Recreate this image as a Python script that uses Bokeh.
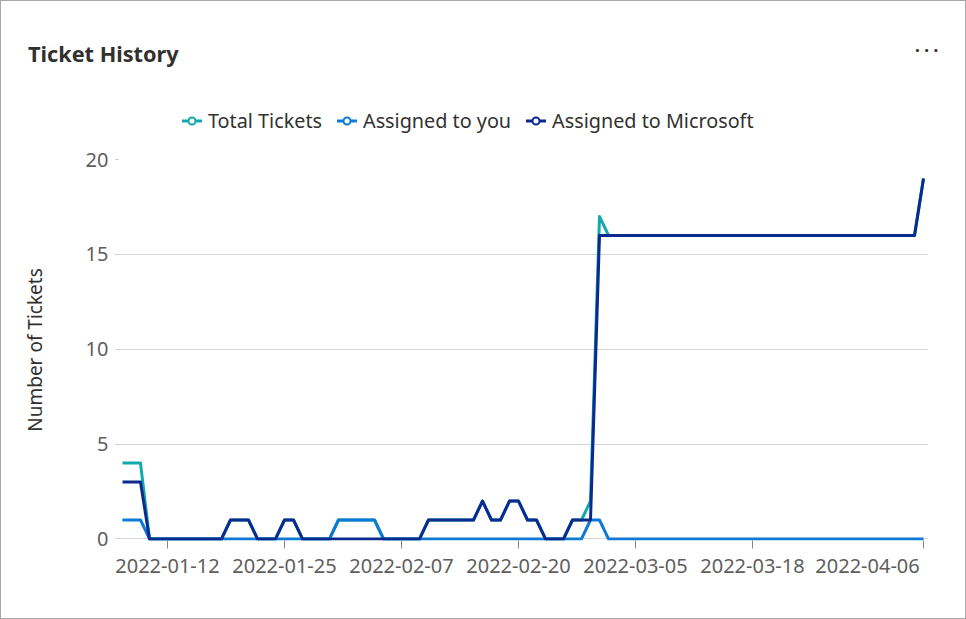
import pandas as pd
from bokeh.plotting import figure
from bokeh.layouts import column
from bokeh.models import Range1d, FixedTicker, DatetimeTickFormatter, ColumnDataSource, Div
from bokeh.embed import file_html
from bokeh.resources import INLINE

# ---------------- data ----------------
dates = pd.date_range("2022-01-07", "2022-04-06", freq="D")

total_tickets = [
    4, 4, 4, 0, 0, 0, 0, 0, 0, 0, 0, 0, 1, 1, 1, 0, 0, 0, 1, 1,
    0, 0, 0, 0, 1, 1, 1, 1, 1, 0, 0, 0, 0, 0, 1, 1, 1, 1, 1, 1,
    2, 1, 1, 2, 2, 1, 1, 0, 0, 0, 1, 1, 2, 17, 16, 16, 16, 16, 16, 16,
    16, 16, 16, 16, 16, 16, 16, 16, 16, 16, 16, 16, 16, 16, 16, 16, 16, 16, 16, 16,
    16, 16, 16, 16, 16, 16, 16, 16, 16, 19,
]
assigned_to_you = [
    1, 1, 1, 0, 0, 0, 0, 0, 0, 0, 0, 0, 0, 0, 0, 0, 0, 0, 0, 0,
    0, 0, 0, 0, 1, 1, 1, 1, 1, 0, 0, 0, 0, 0, 0, 0, 0, 0, 0, 0,
    0, 0, 0, 0, 0, 0, 0, 0, 0, 0, 0, 0, 1, 1, 0, 0, 0, 0, 0, 0,
    0, 0, 0, 0, 0, 0, 0, 0, 0, 0, 0, 0, 0, 0, 0, 0, 0, 0, 0, 0,
    0, 0, 0, 0, 0, 0, 0, 0, 0, 0,
]
assigned_to_microsoft = [
    3, 3, 3, 0, 0, 0, 0, 0, 0, 0, 0, 0, 1, 1, 1, 0, 0, 0, 1, 1,
    0, 0, 0, 0, 0, 0, 0, 0, 0, 0, 0, 0, 0, 0, 1, 1, 1, 1, 1, 1,
    2, 1, 1, 2, 2, 1, 1, 0, 0, 0, 1, 1, 1, 16, 16, 16, 16, 16, 16, 16,
    16, 16, 16, 16, 16, 16, 16, 16, 16, 16, 16, 16, 16, 16, 16, 16, 16, 16, 16, 16,
    16, 16, 16, 16, 16, 16, 16, 16, 16, 19,
]
series_names = ["Total Tickets", "Assigned to you", "Assigned to Microsoft"]
series_keys = ["total", "you", "microsoft"]
x_tick_labels = ["2022-01-12", "2022-01-25", "2022-02-07", "2022-02-20",
                 "2022-03-05", "2022-03-18", "2022-04-06"]
y_ticks = [0, 5, 10, 15, 20]
title_text = "Ticket History"
y_axis_title = "Number of Tickets"

# ---------------- style ----------------
FONT = "Noto Sans"
series_colors = ["#12a8ac", "#0f7ad6", "#0b2a90"]
TEXT_DARK = "#323130"
TEXT_GREY = "#605e5c"
W = 964
HEADER_H = 138
MAIN_H = 479

source = ColumnDataSource(dict(date=dates, total=total_tickets, you=assigned_to_you,
                               microsoft=assigned_to_microsoft))

DAY = 86400000.0
t0 = pd.Timestamp(dates[0]).value / 1e6
t1 = pd.Timestamp(dates[-1]).value / 1e6

# ---------------- header: title, legend, menu ----------------
def legend_icon(color):
    return (f'<svg width="20" height="20" style="display:block;flex:none">'
            f'<line x1="0" y1="10" x2="20" y2="10" stroke="{color}" stroke-width="3"/>'
            f'<circle cx="10" cy="10" r="3.5" fill="white" stroke="{color}" stroke-width="2"/>'
            f'</svg>')

legend_html = "".join(
    f'<div style="display:flex;align-items:center;margin-right:15px">'
    f'{legend_icon(c)}<span style="margin-left:6px;line-height:20px;white-space:nowrap">{n}</span></div>'
    for n, c in zip(series_names, series_colors))

header_html = (
    f'<div style="position:relative;width:{W}px;height:{HEADER_H}px;font-family:\'{FONT}\';'
    f'color:{TEXT_DARK};background:white">'
    f'<div style="position:absolute;left:27px;top:42px;font-size:21.7px;font-weight:bold;'
    f'line-height:1;white-space:nowrap">{title_text}</div>'
    f'<div style="position:absolute;left:914px;top:36px;font-size:17px;font-weight:bold;'
    f'line-height:1;white-space:nowrap">. . .</div>'
    f'<div style="position:absolute;left:181px;top:110px;height:20px;display:flex;'
    f'font-size:19.8px">{legend_html}</div>'
    f'</div>')

header = Div(text=header_html, width=W, height=HEADER_H, margin=0,
             styles={"padding": "0", "margin": "0"})

# ---------------- main chart ----------------
p = figure(width=W, height=MAIN_H, x_axis_type="datetime", output_backend="svg",
           toolbar_location=None,
           min_border_left=117, min_border_right=37, min_border_top=20, min_border_bottom=78,
           background_fill_color="white", border_fill_color="white", outline_line_color=None,
           x_range=Range1d(t0 - 0.444 * DAY, t1 + 0.556 * DAY),
           y_range=Range1d(-0.08, 20), margin=0)

for key, color in zip(series_keys, series_colors):
    p.line("date", key, source=source, line_color=color, line_width=3, line_join="round")

# grid
p.xgrid.visible = False
p.ygrid.grid_line_color = "#d6d6d6"
p.ygrid.grid_line_width = 1

# x axis
tick_ms = [pd.Timestamp(d).value / 1e6 for d in x_tick_labels]
p.xaxis.ticker = FixedTicker(ticks=tick_ms)
fmt = "%Y-%m-%d"
p.xaxis.formatter = DatetimeTickFormatter(days=fmt, months=fmt, years=fmt, hours=fmt,
                                          hourmin=fmt, minutes=fmt, minsec=fmt,
                                          seconds=fmt, milliseconds=fmt, microseconds=fmt)
# keep the last label inside the chart (ending at its tick, as in the reference)
p.xaxis.major_label_overrides = {tick_ms[-1]: x_tick_labels[-1] + "\u2007" * 4}
p.xaxis.axis_line_color = None
p.xaxis.major_tick_line_color = "#8a8886"
p.xaxis.major_tick_out = 8
p.xaxis.major_tick_in = 0
p.xaxis.minor_tick_line_color = None
p.xaxis.major_label_text_font = FONT
p.xaxis.major_label_text_font_size = "20px"
p.xaxis.major_label_text_color = TEXT_GREY
p.xaxis.major_label_standoff = 3

# y axis
p.yaxis.ticker = FixedTicker(ticks=y_ticks)
p.yaxis.axis_line_color = None
p.yaxis.major_tick_line_color = "#c8c6c4"
p.yaxis.major_tick_out = 3
p.yaxis.major_tick_in = 0
p.yaxis.minor_tick_line_color = None
p.yaxis.major_label_text_font = FONT
p.yaxis.major_label_text_font_size = "20px"
p.yaxis.major_label_text_color = TEXT_GREY
p.yaxis.major_label_standoff = 7
p.yaxis.axis_label = y_axis_title
p.yaxis.axis_label_text_font = FONT
p.yaxis.axis_label_text_font_size = "19px"
p.yaxis.axis_label_text_font_style = "normal"
p.yaxis.axis_label_text_color = TEXT_DARK
p.yaxis.axis_label_standoff = 35

layout = column(header, p, spacing=0)
layout.styles = {"border": "1px solid #a8a8a8"}

open("out.html", "w").write(file_html(layout, INLINE))
